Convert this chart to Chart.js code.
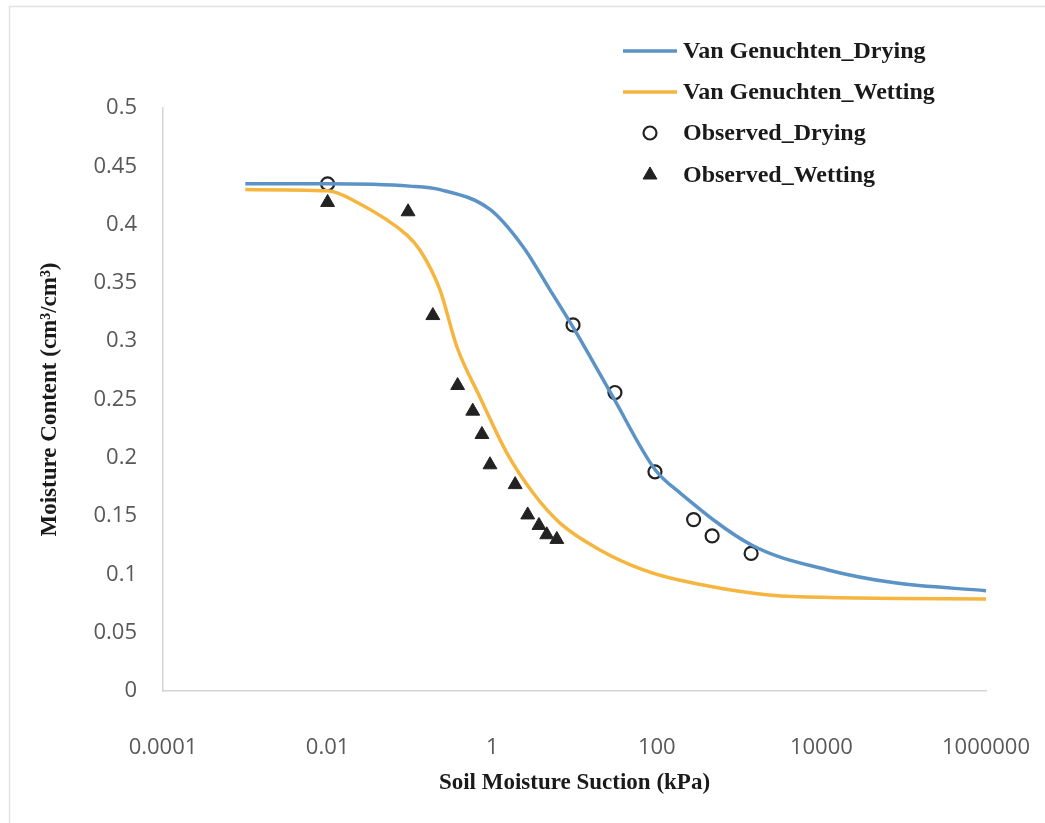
<!DOCTYPE html>
<html>
<head>
<meta charset="utf-8">
<title>Soil water retention</title>
<script src="https://cdn.jsdelivr.net/npm/chart.js@4.4.0/dist/chart.umd.min.js"></script>
<style>
  body { margin: 0; background: #fff; }
  canvas { display: block; }
</style>
</head>
<body>
<canvas id="swcc" width="1045" height="823"></canvas>
<script>
// fitted curves
const dryingCurveX = [0.001, 0.01, 0.1, 0.232, 0.94, 2.37, 5.04, 9.6, 29.4, 95, 191, 1435, 11700, 74000, 1000000];
const dryingCurveY = [0.435, 0.435, 0.433, 0.43, 0.413, 0.381, 0.344, 0.312, 0.252, 0.19, 0.17, 0.125, 0.104, 0.093, 0.086];
const wettingCurveX = [0.001, 0.01, 0.023, 0.092, 0.133, 0.232, 0.373, 0.71, 1.51, 3.13, 6.67, 20.4, 62.5, 191, 4500, 1000000];
const wettingCurveY = [0.43, 0.429, 0.419, 0.391, 0.378, 0.344, 0.295, 0.252, 0.204, 0.17, 0.144, 0.121, 0.105, 0.095, 0.081, 0.079];

// measured points
const obsDryingX = [0.01, 9.6, 31, 95, 280, 470, 1400];
const obsDryingY = [0.435, 0.314, 0.256, 0.188, 0.147, 0.133, 0.118];
const obsWettingX = [0.01, 0.095, 0.19, 0.38, 0.58, 0.75, 0.94, 1.9, 2.7, 3.7, 4.6, 6.1];
const obsWettingY = [0.419, 0.411, 0.322, 0.262, 0.24, 0.22, 0.194, 0.177, 0.151, 0.142, 0.134, 0.13];

const xTickValues = [0.0001, 0.01, 1, 100, 10000, 1000000];
const xTickLabels = ['0.0001', '0.01', '1', '100', '10000', '1000000'];

const seriesNames = ['Van Genuchten_Drying', 'Van Genuchten_Wetting', 'Observed_Drying', 'Observed_Wetting'];
const blue = '#5b93c6';
const orange = '#f5b53f';
const markColor = '#222222';

function pairs(xs, ys) {
  return xs.map((x, i) => ({ x: x, y: ys[i] }));
}

// legend drawn by hand so it can sit over the plot like the Excel one
const legendPlugin = {
  id: 'handLegend',
  afterDraw(chart) {
    const ctx = chart.ctx;
    const rows = [51, 92, 133, 175];
    ctx.save();
    ctx.font = 'bold 24px "Liberation Serif"';
    ctx.textBaseline = 'middle';
    rows.forEach((y, i) => {
      if (i < 2) {
        ctx.strokeStyle = i === 0 ? blue : orange;
        ctx.lineWidth = 3.5;
        ctx.beginPath();
        ctx.moveTo(623, y);
        ctx.lineTo(677, y);
        ctx.stroke();
      } else {
        const ds = chart.data.datasets[i];
        ctx.fillStyle = ds.pointBackgroundColor;
        ctx.strokeStyle = ds.pointBorderColor;
        ctx.lineWidth = ds.borderWidth;
        Chart.helpers.drawPoint(ctx, {
          pointStyle: ds.pointStyle,
          radius: ds.pointRadius,
          borderWidth: ds.borderWidth,
          rotation: 0
        }, 650, y);
      }
      ctx.fillStyle = '#1a1a1a';
      ctx.fillText(seriesNames[i], 683, y + 1);
    });
    ctx.restore();
  }
};

// thin frame round the chart like the pasted Excel object
const framePlugin = {
  id: 'frame',
  beforeDraw(chart) {
    const ctx = chart.ctx;
    ctx.save();
    ctx.fillStyle = '#fff';
    ctx.fillRect(0, 0, chart.width, chart.height);
    ctx.strokeStyle = '#e2e2e2';
    ctx.lineWidth = 1.5;
    ctx.beginPath();
    ctx.moveTo(9.5, chart.height);
    ctx.lineTo(9.5, 6.5);
    ctx.lineTo(chart.width, 6.5);
    ctx.stroke();
    ctx.restore();
  }
};

const ctx = document.getElementById('swcc').getContext('2d');
new Chart(ctx, {
  type: 'scatter',
  data: {
    datasets: [
      {
        label: seriesNames[0],
        data: pairs(dryingCurveX, dryingCurveY),
        showLine: true,
        borderColor: blue,
        borderWidth: 3.5,
        pointRadius: 0,
        cubicInterpolationMode: 'monotone'
      },
      {
        label: seriesNames[1],
        data: pairs(wettingCurveX, wettingCurveY),
        showLine: true,
        borderColor: orange,
        borderWidth: 3.5,
        pointRadius: 0,
        cubicInterpolationMode: 'monotone'
      },
      {
        label: seriesNames[2],
        data: pairs(obsDryingX, obsDryingY),
        pointStyle: 'circle',
        pointRadius: 6.5,
        pointBackgroundColor: 'rgba(255,255,255,0)',
        pointBorderColor: markColor,
        borderWidth: 2.2
      },
      {
        label: seriesNames[3],
        data: pairs(obsWettingX, obsWettingY),
        pointStyle: 'triangle',
        pointRadius: 8,
        pointBackgroundColor: markColor,
        pointBorderColor: markColor,
        borderWidth: 1
      }
    ]
  },
  options: {
    responsive: false,
    animation: false,
    layout: { padding: { top: 108, right: 59, left: 0, bottom: 0 } },
    plugins: {
      legend: { display: false },
      tooltip: { enabled: false }
    },
    scales: {
      x: {
        type: 'logarithmic',
        min: 0.0001,
        max: 1000000,
        grid: { display: false, drawTicks: false },
        border: { display: true, color: '#d4d4d4', width: 1.5 },
        afterBuildTicks: axis => { axis.ticks = xTickValues.map(v => ({ value: v })); },
        afterFit: axis => {
          axis.height = 132;
          axis.paddingLeft = 0;
          axis.paddingRight = 0;
        },
        ticks: {
          padding: 44,
          color: '#595959',
          font: { family: 'Open Sans', size: 22 },
          maxRotation: 0,
          autoSkip: false,
          callback: (v) => xTickLabels[xTickValues.indexOf(v)] || ''
        },
        title: {
          display: true,
          text: 'Soil Moisture Suction (kPa)',
          color: '#1a1a1a',
          font: { family: 'Liberation Serif', size: 23, weight: 'bold' },
          padding: { top: 0, bottom: 26 }
        }
      },
      y: {
        min: 0,
        max: 0.5,
        grid: { display: false, drawTicks: false },
        border: { display: true, color: '#d4d4d4', width: 1.5 },
        afterFit: axis => {
          axis.width = 163;
          axis.paddingTop = 0;
          axis.paddingBottom = 0;
        },
        ticks: {
          stepSize: 0.05,
          padding: 26,
          color: '#595959',
          font: { family: 'Open Sans', size: 22 },
          callback: v => String(Number(v.toFixed(2)))
        },
        title: {
          display: true,
          text: 'Moisture Content (cm³/cm³)',
          color: '#1a1a1a',
          font: { family: 'Liberation Serif', size: 23, weight: 'bold' },
          padding: { top: 36, bottom: 0 }
        }
      }
    }
  },
  plugins: [framePlugin, legendPlugin]
});
</script>
</body>
</html>
